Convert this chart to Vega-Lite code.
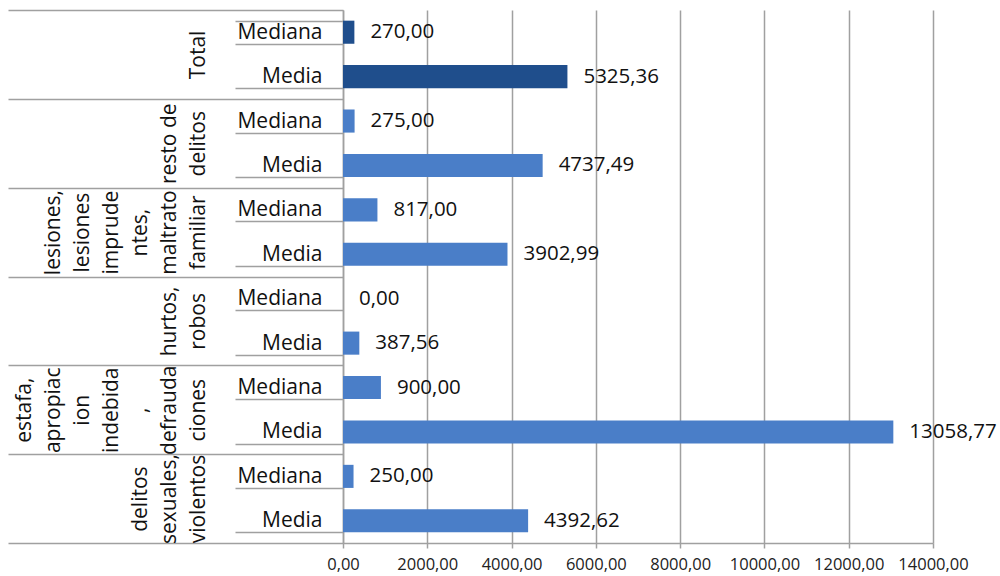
{
  "$schema": "https://vega.github.io/schema/vega-lite/v6.json",
  "width": 590,
  "height": 533,
  "autosize": {"type": "none"},
  "padding": {"left": 343, "top": 10, "right": 67, "bottom": 33},
  "background": "white",
  "config": {
    "locale": {"number": {"decimal": ",", "thousands": ".", "grouping": [3], "currency": ["", " €"]}},
    "view": {"stroke": null},
    "font": "Open Sans"
  },
  "datasets": {
    "bars": [
      {"group": "Total", "stat": "Mediana", "key": "Total|Mediana", "value": 270.00},
      {"group": "Total", "stat": "Media", "key": "Total|Media", "value": 5325.36},
      {"group": "resto de\ndelitos", "stat": "Mediana", "key": "resto|Mediana", "value": 275.00},
      {"group": "resto de\ndelitos", "stat": "Media", "key": "resto|Media", "value": 4737.49},
      {"group": "lesiones,\nlesiones\nimprude\nntes,\nmaltrato\nfamiliar", "stat": "Mediana", "key": "lesiones|Mediana", "value": 817.00},
      {"group": "lesiones,\nlesiones\nimprude\nntes,\nmaltrato\nfamiliar", "stat": "Media", "key": "lesiones|Media", "value": 3902.99},
      {"group": "hurtos,\nrobos", "stat": "Mediana", "key": "hurtos|Mediana", "value": 0.00},
      {"group": "hurtos,\nrobos", "stat": "Media", "key": "hurtos|Media", "value": 387.56},
      {"group": "estafa,\napropiac\nion\nindebida\n,\ndefrauda\nciones", "stat": "Mediana", "key": "estafa|Mediana", "value": 900.00},
      {"group": "estafa,\napropiac\nion\nindebida\n,\ndefrauda\nciones", "stat": "Media", "key": "estafa|Media", "value": 13058.77},
      {"group": "delitos\nsexuales,\nviolentos", "stat": "Mediana", "key": "delitos|Mediana", "value": 250.00},
      {"group": "delitos\nsexuales,\nviolentos", "stat": "Media", "key": "delitos|Media", "value": 4392.62}
    ]
  },
  "data": {"name": "bars"},
  "layer": [
    {
      "layer": [
        {
          "mark": {"type": "bar"},
          "encoding": {
            "y": {
              "field": "key", "type": "nominal", "sort": null,
              "scale": {"paddingInner": 0.48, "paddingOuter": 0.24},
              "axis": {
                "orient": "left",
                "title": null,
                "labelExpr": "split(datum.label, '|')[1]",
                "labelFont": "Open Sans", "labelFontSize": 21, "labelColor": "#111111",
                "labelAlign": "right", "labelBaseline": "middle",
                "tickBand": "extent", "tickSize": 108, "tickColor": "#a0a0a0", "tickWidth": 1.5,
                "labelPadding": -87,
                "domain": true, "domainColor": "#a0a0a0", "domainWidth": 1.5,
                "grid": false
              }
            },
            "x": {
              "field": "value", "type": "quantitative",
              "scale": {"domain": [0, 14000], "nice": false},
              "axis": {
                "title": null, "values": [0, 2000, 4000, 6000, 8000, 10000, 12000, 14000],
                "format": ".2f",
                "labelFont": "Open Sans", "labelFontSize": 16.5, "labelColor": "#222222", "labelPadding": 8,
                "labelOverlap": false, "labelBound": false, "labelFlush": false,
                "grid": true, "gridColor": "#a0a0a0", "gridWidth": 1.5,
                "domainColor": "#a0a0a0", "domainWidth": 1.5,
                "tickColor": "#a0a0a0", "tickSize": 5, "tickWidth": 1.5
              }
            },
            "color": {
              "condition": {"test": "datum.group === 'Total'", "value": "#1f4e8c"},
              "value": "#4a7ec8"
            }
          }
        },
        {
          "mark": {"type": "text", "align": "left", "baseline": "middle", "dx": 16, "font": "Open Sans", "fontSize": 20.5, "color": "#111111"},
          "encoding": {
            "y": {"field": "key", "type": "nominal", "sort": null},
            "x": {"field": "value", "type": "quantitative"},
            "text": {"field": "value", "type": "quantitative", "format": ".2f"}
          }
        }
      ]
    },
    {
      "mark": {"type": "point", "opacity": 0},
      "encoding": {
        "y": {
          "field": "group", "type": "nominal", "sort": null,
          "axis": {
            "orient": "left",
            "title": null,
            "labelExpr": "split(substring('\u200b\\n\u200b\\n\u200b\\n\u200b\\n\u200b\\n\u200b\\n\u200b\\n\u200b\\n', 0, 2 * (8 - length(split(datum.label, '\\n')))) + datum.label, '\\n')",
            "labelAngle": -90,
            "labelAlign": "center", "labelBaseline": "bottom",
            "labelFont": "Open Sans", "labelFontSize": 21, "labelColor": "#111111",
            "labelLineHeight": 29,
            "labelBound": false, "labelOverlap": false,
            "tickBand": "extent", "tickSize": 335, "tickColor": "#a0a0a0", "tickWidth": 1.5,
            "labelPadding": 3,
            "domain": false, "grid": false
          }
        },
        "x": {"datum": 0, "type": "quantitative"}
      }
    }
  ],
  "resolve": {"scale": {"y": "independent"}, "axis": {"y": "independent"}}
}
